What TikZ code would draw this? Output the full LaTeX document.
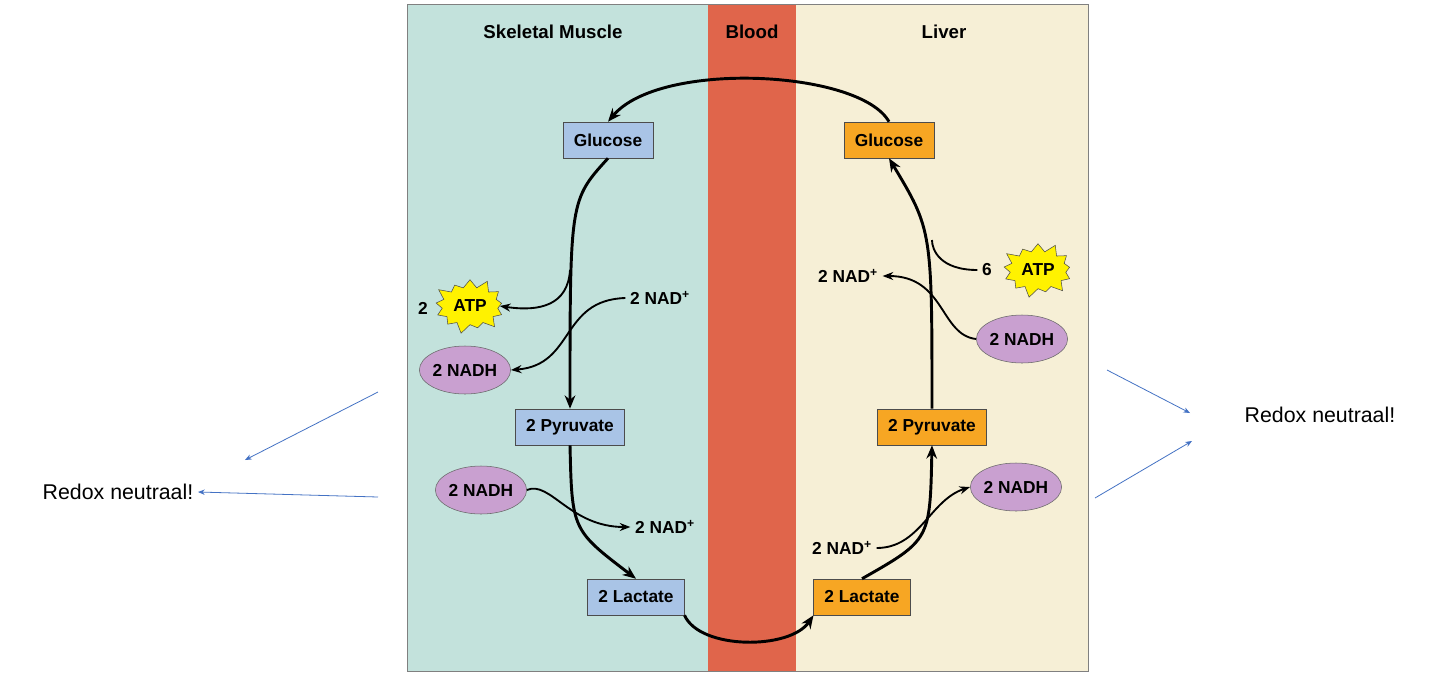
\documentclass[tikz,border=0pt]{standalone}
\usepackage{fontspec}
\setmainfont{Liberation Sans}
\usetikzlibrary{shapes.symbols,shapes.geometric,arrows.meta}
\definecolor{teal}{HTML}{C3E2DC}
\definecolor{blood}{HTML}{E0654B}
\definecolor{liv}{HTML}{F6EFD6}
\definecolor{bbox}{HTML}{A9C4E6}
\definecolor{obox}{HTML}{F7A623}
\definecolor{purp}{HTML}{C9A0D0}
\definecolor{larr}{HTML}{4472C4}
\begin{document}
\begin{tikzpicture}[x=0.75pt,y=-0.75pt,
 box/.style={draw=black!70,minimum height=27pt,inner xsep=8pt,font=\bfseries\fontsize{13}{13}\selectfont},
 mb/.style={box,fill=bbox},
 lb/.style={box,fill=obox},
 nadh/.style={ellipse,draw=black!60,fill=purp,minimum width=68pt,minimum height=36pt,inner sep=0pt,font=\bfseries\fontsize{13}{13}\selectfont},
 atp/.style={starburst,starburst points=13,starburst point height=8pt,draw=black!70,fill=yellow,minimum width=58pt,minimum height=44pt,inner sep=0pt,font=\bfseries\fontsize{13}{13}\selectfont},
 lab/.style={font=\bfseries\fontsize{13}{13}\selectfont},
 head/.style={font=\bfseries\fontsize{14}{14}\selectfont},
 main/.style={line width=2.2pt,-{Stealth[length=10pt,width=8pt]}},
 side/.style={line width=1.4pt,-{Stealth[length=8pt,width=6pt]}},
 blue/.style={larr,line width=0.6pt,-{Stealth[length=5pt,width=4pt]}}]
\useasboundingbox (0,0) rectangle (1440,676);
\fill[white] (0,0) rectangle (1440,676);
\fill[teal] (407,4) rectangle (708,671);
\fill[blood] (708,4) rectangle (796,671);
\fill[liv] (796,4) rectangle (1088,671);
\draw[black!50] (407,4) rectangle (1088,671);
\node[head] (h1) at (553,32) {Skeletal Muscle};
\node[head] (h2) at (752,32) {Blood};
\node[head] (h3) at (944,32) {Liver};
\node[mb] (mg) at (608,140) {Glucose};
\node[mb] (mp) at (570,427) {2 Pyruvate};
\node[mb] (ml) at (636,597) {2 Lactate};
\node[lb] (lg) at (889,140) {Glucose};
\node[lb] (lp) at (932,427) {2 Pyruvate};
\node[lb] (ll) at (862,597) {2 Lactate};
\node[nadh] (mn1) at (465,370) {2 NADH};
\node[nadh] (mn2) at (481,490) {2 NADH};
\node[nadh] (ln1) at (1022,339) {2 NADH};
\node[nadh] (ln2) at (1016,487) {2 NADH};
\node[atp] (ma) at (470,306) {ATP};
\node[lab] (m2) at (423,308) {2};
\node[atp] (la) at (1038,270) {ATP};
\node[lab] (l6) at (987,270) {6};
\node[lab] (mnad1) at (660,298) {2 NAD\textsuperscript{+}};
\node[lab] (mnad2) at (665,527) {2 NAD\textsuperscript{+}};
\node[lab] (lnad1) at (848,276) {2 NAD\textsuperscript{+}};
\node[lab] (lnad2) at (842,548) {2 NAD\textsuperscript{+}};
\node[font=\fontsize{16}{16}\selectfont] (r1) at (118,492) {Redox neutraal!};
\node[font=\fontsize{16}{16}\selectfont] (r2) at (1320,415) {Redox neutraal!};
% main cycle
\draw[main] (mg.south) .. controls (570,200) .. (mp.north);
\draw[main] (mp.south) .. controls (572,530) .. (ml.north);
\draw[main] (ml.south east) .. controls (700,650) and (790,650) .. (ll.south west);
\draw[main] (ll.north) .. controls (930,540) .. (lp.south);
\draw[main] (lp.north) .. controls (932,230) .. (lg.south);
\draw[main] (lg.north) .. controls (860,70) and (660,60) .. (mg.north);
% muscle side
\draw[side] (570,270) .. controls (568,305) and (540,312) .. (ma.east);
\draw[side] (mnad1.west) .. controls (560,300) and (575,365) .. (mn1.east);
\draw[side] (mn2.east) .. controls (550,480) and (570,527) .. (mnad2.west);
% liver side
\draw[line width=1.4pt] (l6.west) .. controls (940,270) and (932,250) .. (932,240);
\draw[side] (ln1.west) .. controls (940,335) and (945,276) .. (lnad1.east);
\draw[side] (lnad2.east) .. controls (920,548) and (930,500) .. (ln2.west);
% blue
\coordinate (b1) at (378,392); \coordinate (b2) at (378,497);
\coordinate (b3) at (1107,370); \coordinate (b4) at (1095,498);
\draw[blue] (b1) -- (245,460);
\draw[blue] (b2) -- (r1.east);
\draw[blue] (b3) -- (1190,413);
\draw[blue] (b4) -- (1192,441);
\end{tikzpicture}
\end{document}
